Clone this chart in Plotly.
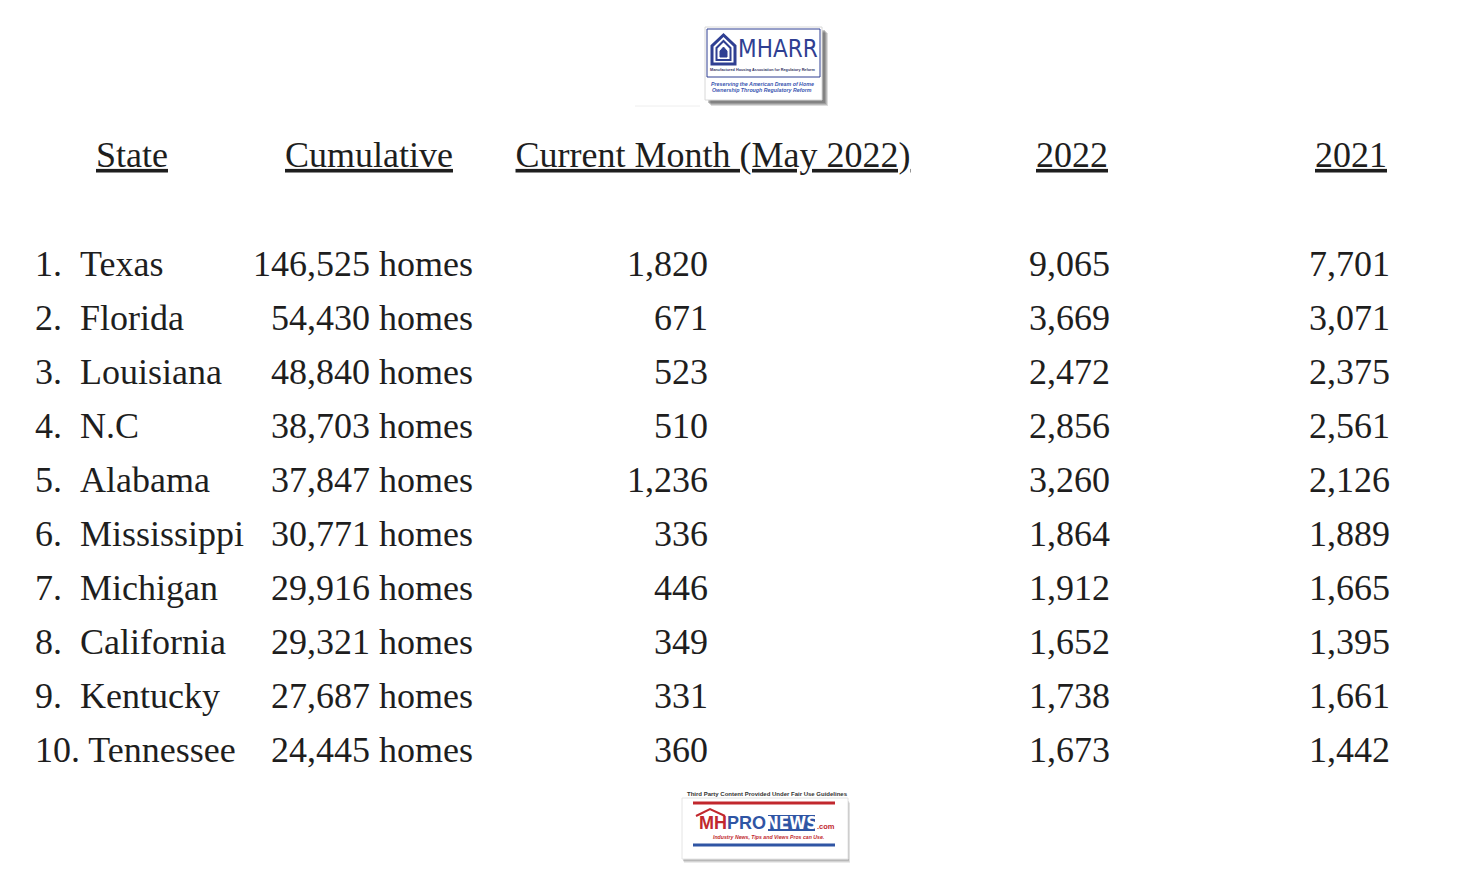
import plotly.graph_objects as go

# ---------------- data ----------------
ranks = ["1.", "2.", "3.", "4.", "5.", "6.", "7.", "8.", "9.", "10."]
states = ["Texas", "Florida", "Louisiana", "N.C", "Alabama", "Mississippi",
          "Michigan", "California", "Kentucky", "Tennessee"]
cumulative = [146525, 54430, 48840, 38703, 37847, 30771, 29916, 29321, 27687, 24445]
current_month = [1820, 671, 523, 510, 1236, 336, 446, 349, 331, 360]
year_2022 = [9065, 3669, 2472, 2856, 3260, 1864, 1912, 1652, 1738, 1673]
year_2021 = [7701, 3071, 2375, 2561, 2126, 1889, 1665, 1395, 1661, 1442]
headers = ["State", "Cumulative", "Current Month (May 2022)", "2022", "2021"]

W, H = 1475, 893
OFF = 8                      # default page body margin
WF, HF = W - 2 * OFF, H - 2 * OFF
FONT = "Liberation Serif, Times New Roman, serif"
TXT = "#1e1e1e"
SANS = "Liberation Sans, Arial, sans-serif"
NARROW = "Liberation Sans Narrow, Arial Narrow, DejaVu Sans Condensed, Liberation Sans, sans-serif"
BLUE = "#2f3f92"
NBLUE = "#2f55a4"
RED = "#c1272d"

rows = list(range(1, len(states) + 1))
# y-axis in row units: row 1 at page pixel 267, spacing 54 px
ROW0, STEP = 267 - OFF, 54
y_top = 1 - ROW0 / STEP
y_bot = 1 + (HF - ROW0) / STEP

fig = go.Figure()

def fmt(v):
    return f"{v:,}"

NB = "\u00a0"
labels = [f"{r}{NB}{NB}{s}" if len(r) < 3 else f"{r} {s}" for r, s in zip(ranks, states)]

tf = dict(family=FONT, size=36, color=TXT)
fig.add_trace(go.Scatter(x=[35] * len(rows), y=rows, mode="text", text=labels,
                         textposition="middle right", textfont=tf, hoverinfo="skip"))
fig.add_trace(go.Scatter(x=[473] * len(rows), y=rows, mode="text",
                         text=[fmt(v) + " homes" for v in cumulative],
                         textposition="middle left", textfont=tf, hoverinfo="skip"))
fig.add_trace(go.Scatter(x=[708] * len(rows), y=rows, mode="text",
                         text=[fmt(v) for v in current_month],
                         textposition="middle left", textfont=tf, hoverinfo="skip"))
fig.add_trace(go.Scatter(x=[1110] * len(rows), y=rows, mode="text",
                         text=[fmt(v) for v in year_2022],
                         textposition="middle left", textfont=tf, hoverinfo="skip"))
fig.add_trace(go.Scatter(x=[1390] * len(rows), y=rows, mode="text",
                         text=[fmt(v) for v in year_2021],
                         textposition="middle left", textfont=tf, hoverinfo="skip"))

# headers (row -1)
fig.add_trace(go.Scatter(x=[132, 369, 713, 1072, 1351], y=[-1.02] * 5, mode="text",
                         text=[f"<u>{h}</u>" for h in headers],
                         textposition="middle center",
                         textfont=dict(family=FONT, size=36, color=TXT), hoverinfo="skip"))

# ---------------- logos (page pixel coordinates -> paper) ----------------
def py(p):
    return 1 - (p - OFF) / HF

shapes = []
ann = []

def rect(x0, y0, x1, y1, fill=None, line=None, lw=0, opacity=1.0):
    shapes.append(dict(type="rect", xref="x", yref="paper", x0=x0, x1=x1, y0=py(y0), y1=py(y1),
                       fillcolor=fill or "rgba(0,0,0,0)", opacity=opacity,
                       line=dict(color=line or "rgba(0,0,0,0)", width=lw), layer="below"))

def hline(x0, x1, y, color, w):
    shapes.append(dict(type="line", xref="x", yref="paper", x0=x0, x1=x1, y0=py(y), y1=py(y),
                       line=dict(color=color, width=w)))

def text(x, y, s, size, color, family=SANS, xa="center", ya="middle", pad=1):
    ann.append(dict(x=x, y=py(y), xref="x", yref="paper", text=s, showarrow=False,
                    xanchor=xa, yanchor=ya, borderpad=pad,
                    font=dict(family=family, size=size, color=color)))

# MHARR logo
for d, op in [(6, 0.2), (5, 0.25), (4, 0.3), (3, 0.35)]:
    rect(705 + d, 27 + d, 822 + d, 100 + d, fill="#555555", opacity=op)
rect(705, 27, 822, 100, fill="white", line="#d8d8d8", lw=1)
rect(707, 29, 820, 77, fill="white", line=BLUE, lw=1)
# house icon
shapes.append(dict(type="path", xref="x", yref="paper",
                   path=f"M 712 {py(64)} L 712 {py(46)} L 723.5 {py(35)} L 735 {py(46)} L 735 {py(64)} Z",
                   line=dict(color=BLUE, width=3), fillcolor="white"))
shapes.append(dict(type="path", xref="x", yref="paper",
                   path=f"M 716.5 {py(60)} L 716.5 {py(48)} L 723.5 {py(41)} L 730.5 {py(48)} L 730.5 {py(60)} Z",
                   line=dict(color=BLUE, width=2), fillcolor="white"))
shapes.append(dict(type="path", xref="x", yref="paper",
                   path=f"M 720 {py(57)} L 720 {py(51)} L 723.5 {py(47)} L 727 {py(51)} L 727 {py(57)} Z",
                   line=dict(color=BLUE, width=1), fillcolor=BLUE))
text(778, 49, "MHARR", 24, BLUE, family=NARROW)
text(763, 70, "<b>Manufactured Housing Association for Regulatory Reform</b>", 3.8, "#333366")
text(762, 84, "<b><i>Preserving the American Dream of Home</i></b>", 5.3, "#3a55b0")
text(762, 90, "<b><i>Ownership Through Regulatory Reform</i></b>", 5.3, "#3a55b0")
hline(635, 700, 106, "#eeeeee", 1)

# MHProNews logo
text(767, 794, "<b>Third Party Content Provided Under Fair Use Guidelines</b>", 6, "#333333")
for d, op in [(4, 0.15), (3, 0.2), (2, 0.3)]:
    rect(682 + d / 2, 799 + d, 848 + d / 2, 859 + d, fill="#777777", opacity=op)
rect(682, 798, 848, 859, fill="white", line="#e4e4e4", lw=1)
hline(693, 835, 803, RED, 3)
hline(693, 835, 845, NBLUE, 3)
shapes.append(dict(type="path", xref="x", yref="paper",
                   path=f"M 696 {py(816)} L 710 {py(809)} L 725 {py(816)}",
                   line=dict(color=RED, width=2)))
rect(768, 815, 815, 831, fill=NBLUE)
text(767, 823, "<b><span style='color:%s'>MH</span><span style='color:%s'>PRO</span></b>" % (RED, NBLUE),
     18, RED, xa="right", pad=0)
text(791.5, 823, "<b>NEWS</b>", 17, "white", family=NARROW, pad=0)
text(816, 826, "<b>.com</b>", 7.5, RED, xa="left", pad=0)
text(768, 837, "<b><i>Industry News, Tips and Views Pros can Use.</i></b>", 5.2, RED)

fig.update_layout(
    width=WF, height=HF, margin=dict(l=0, r=0, t=0, b=0),
    paper_bgcolor="white", plot_bgcolor="white", showlegend=False,
    xaxis=dict(range=[OFF, OFF + WF], visible=False, fixedrange=True),
    yaxis=dict(range=[y_bot, y_top], visible=False, fixedrange=True),
    shapes=shapes, annotations=ann,
)

fig.write_html("out.html")
